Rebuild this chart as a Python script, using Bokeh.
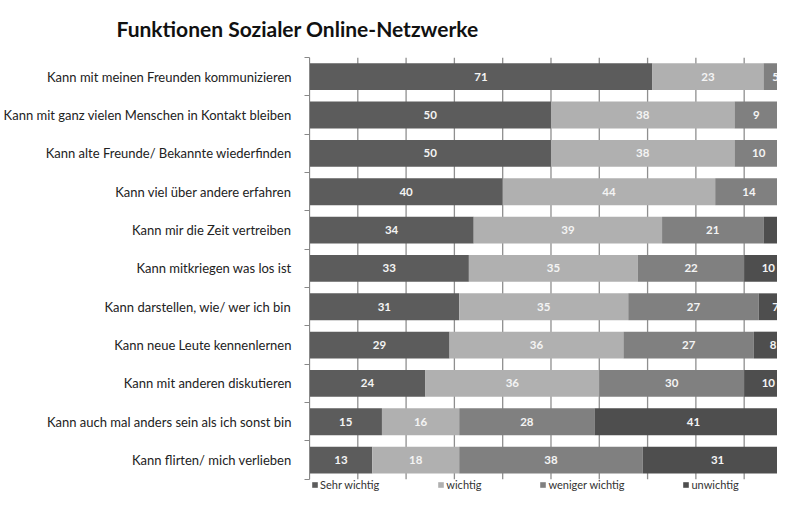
from bokeh.plotting import figure
from bokeh.models import ColumnDataSource, FixedTicker, Legend, LegendItem
from bokeh.embed import file_html
from bokeh.resources import INLINE
from bokeh.core.properties import value

title_text = "Funktionen Sozialer Online-Netzwerke"
categories = [
    "Kann mit meinen Freunden kommunizieren",
    "Kann mit ganz vielen Menschen in Kontakt bleiben",
    "Kann alte Freunde/ Bekannte wiederfinden",
    "Kann viel über andere erfahren",
    "Kann mir die Zeit vertreiben",
    "Kann mitkriegen was los ist",
    "Kann darstellen, wie/ wer ich bin",
    "Kann neue Leute kennenlernen",
    "Kann mit anderen diskutieren",
    "Kann auch mal anders sein als ich sonst bin",
    "Kann flirten/ mich verlieben",
]
sehr_wichtig = [71, 50, 50, 40, 34, 33, 31, 29, 24, 15, 13]
wichtig = [23, 38, 38, 44, 39, 35, 35, 36, 36, 16, 18]
weniger_wichtig = [5, 9, 10, 14, 21, 22, 27, 27, 30, 28, 38]
unwichtig = [1, 3, 2, 2, 7, 10, 7, 8, 10, 41, 31]
series_names = ["Sehr wichtig", "wichtig", "weniger wichtig", "unwichtig"]
series_values = [sehr_wichtig, wichtig, weniger_wichtig, unwichtig]
colors = ["#5c5c5c", "#b0b0b0", "#808080", "#4e4e4e"]
grid_ticks = list(range(0, 101, 10))

FONT = "Lato"
n = len(categories)
ypos = [n - i for i in range(n)]

p = figure(width=777, height=493, output_backend="svg", toolbar_location=None,
           x_range=(0, 96.9), y_range=(0.13, n + 0.5), x_axis_location=None,
           min_border_left=302, min_border_right=0, min_border_top=0,
           min_border_bottom=0)
p.outline_line_color = None
p.xgrid.visible = False
p.ygrid.visible = False

# vertical grid lines, limited to the bar area
grid_src = ColumnDataSource(dict(x=grid_ticks, y0=[0.5] * len(grid_ticks),
                                 y1=[n + 0.5] * len(grid_ticks)))
p.segment(x0="x", y0="y0", x1="x", y1="y1", source=grid_src,
          line_color="#8f8f8f", line_width=1.3)

p.yaxis.bounds = (0.5, n + 0.5)
p.yaxis.ticker = FixedTicker(ticks=ypos, minor_ticks=[y + 0.5 for y in range(n + 1)])
p.yaxis.major_label_overrides = {y: c for y, c in zip(ypos, categories)}
p.yaxis.major_tick_in = 0
p.yaxis.major_tick_out = 0
p.yaxis.minor_tick_in = 0
p.yaxis.minor_tick_out = 5
p.yaxis.minor_tick_line_color = "#888888"
p.yaxis.axis_line_color = "#888888"
p.yaxis.major_label_standoff = 13
p.yaxis.major_label_text_font = FONT
p.yaxis.major_label_text_font_size = "13px"
p.yaxis.major_label_text_color = "#222222"

left = [0] * n
items = []
for name, vals, col in zip(series_names, series_values, colors):
    right = [l + v for l, v in zip(left, vals)]
    src = ColumnDataSource(dict(y=ypos, left=left, right=right,
                                mid=[(l + r) / 2 for l, r in zip(left, right)],
                                lab=[str(v) for v in vals]))
    r = p.hbar(y="y", left="left", right="right", height=0.7, source=src,
               fill_color=col, line_color=None)
    p.text(x="mid", y="y", text="lab", source=src, text_color="#f4f4f4",
           text_font=value(FONT), text_font_style="bold", text_font_size="11.5px",
           text_align="center", text_baseline="middle")
    items.append(LegendItem(label=name, renderers=[r]))
    left = right

legend = Legend(items=items, orientation="horizontal", spacing=58,
                glyph_width=7, glyph_height=7, label_standoff=2,
                label_height=12, label_text_font=FONT, label_text_font_size="11px",
                label_text_color="#333333", border_line_color=None,
                background_fill_alpha=0, margin=2, padding=0,
                location="bottom_left")
p.add_layout(legend, "center")

p.title.text = title_text
p.title.text_font = FONT
p.title.text_font_size = "21px"
p.title.text_font_style = "bold"
p.title.text_color = "#111111"
p.title.align = "left"
p.title.vertical_align = "top"
p.title.offset = -193
p.title.standoff = 30

open("out.html", "w").write(file_html(p, INLINE))
